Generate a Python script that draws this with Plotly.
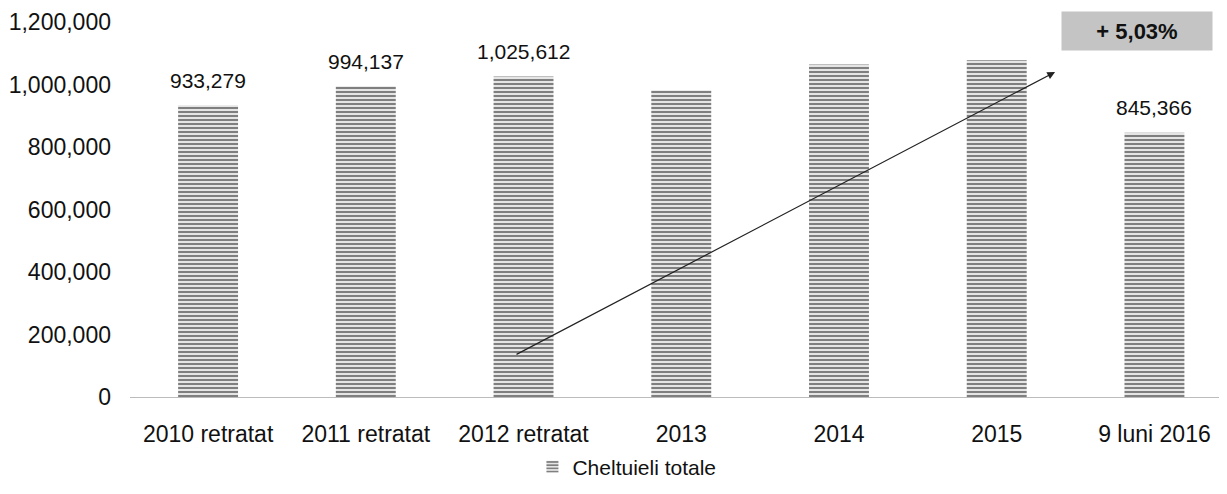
import plotly.graph_objects as go

categories = ["2010 retratat", "2011 retratat", "2012 retratat", "2013", "2014", "2015", "9 luni 2016"]
values = [933279, 994137, 1025612, 981647, 1063751, 1077219, 845366]
series_name = "Cheltuieli totale"
y_ticks = [0, 200000, 400000, 600000, 800000, 1000000, 1200000]
growth_label = "+ 5,03%"

FONT = "Liberation Sans, Arial, sans-serif"

fig = go.Figure()
fig.add_trace(go.Bar(
    x=categories, y=values, name=series_name,
    width=0.38,
    marker=dict(color="white", line=dict(width=0),
                pattern=dict(shape="-", fgcolor="#000000", bgcolor="white", size=4, solidity=0.6)),
))

for c, v in zip(categories, values):
    fig.add_annotation(x=c, y=v, text=f"{v:,}", showarrow=False, yanchor="middle", yshift=25,
                       font=dict(family=FONT, size=21, color="#111"))

# trend arrow
fig.add_annotation(x=5.37, y=1040000, ax=1.946, ay=134000, xref="x", yref="y", axref="x", ayref="y",
                   text="", showarrow=True, arrowhead=2, arrowsize=1.3, arrowwidth=1.2, arrowcolor="#222")
# growth box
fig.add_annotation(x=5.89, y=1171000, xref="x", yref="y", text=f"<b>{growth_label}</b>", showarrow=False,
                   bgcolor="#c4c4c4", borderpad=4, width=142, height=30,
                   font=dict(family=FONT, size=22, color="#111"))

fig.update_layout(
    width=1219, height=486,
    margin=dict(l=122, r=0, t=14, b=97, autoexpand=False),
    paper_bgcolor="white", plot_bgcolor="white",
    font=dict(family=FONT, size=22, color="#111"),
    showlegend=True,
    legend=dict(orientation="h", x=0.453, xanchor="center", y=-0.187, yanchor="middle",
                font=dict(family=FONT, size=21, color="#111")),
)
fig.update_xaxes(showline=True, linecolor="#bbbbbb", linewidth=1, ticks="", showgrid=False,
                 automargin=False, ticklabelstandoff=16,
                 tickfont=dict(family=FONT, size=23), range=[-0.495, 6.46])
fig.update_yaxes(range=[0, 1200000], tickvals=y_ticks, tickformat=",", showgrid=False, zeroline=False,
                 automargin=False, showline=False, ticks="", ticklabelstandoff=18,
                 tickfont=dict(family=FONT, size=23))

fig.write_html("out.html")
